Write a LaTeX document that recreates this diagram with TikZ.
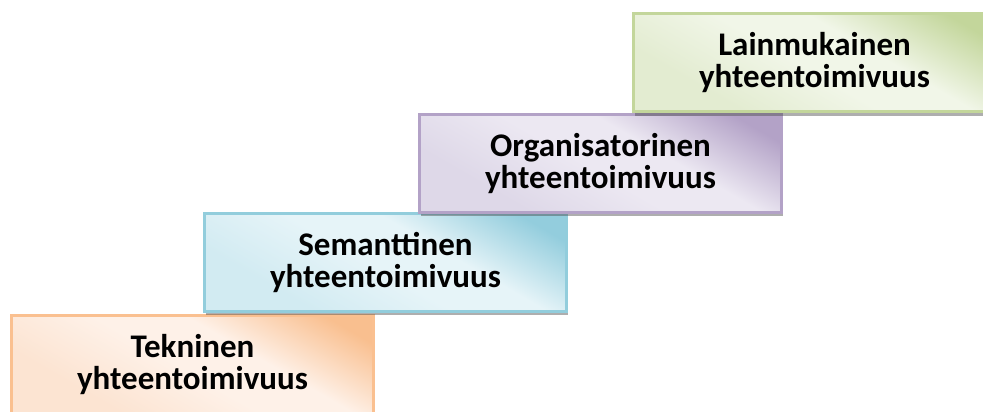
\documentclass[tikz,border=0pt]{standalone}
\usepackage{fontspec}
\setmainfont{Carlito}
\usetikzlibrary{shadows}

% step colours: border, light corner, light centre, dark corner
\definecolor{orBorder}{HTML}{FAC090}
\definecolor{orLight}{HTML}{FCE4D2}
\definecolor{orMid}{HTML}{FEF1E8}
\definecolor{orDark}{HTML}{F9BF8F}
\definecolor{blBorder}{HTML}{92CDDC}
\definecolor{blLight}{HTML}{D2EBF2}
\definecolor{blMid}{HTML}{E6F4F8}
\definecolor{blDark}{HTML}{93CDDD}
\definecolor{puBorder}{HTML}{B3A2C7}
\definecolor{puLight}{HTML}{DED8E8}
\definecolor{puMid}{HTML}{ECE8F2}
\definecolor{puDark}{HTML}{B3A2C7}
\definecolor{grBorder}{HTML}{C3D69B}
\definecolor{grLight}{HTML}{E3ECD1}
\definecolor{grMid}{HTML}{F1F6E8}
\definecolor{grDark}{HTML}{C3D69B}

% working colours of the step gradient, set per box
\colorlet{stepL}{white}
\colorlet{stepM}{white}
\colorlet{stepD}{gray}
\pgfdeclarehorizontalshading[stepL,stepM,stepD]{stepshade}{100bp}{%
  color(0bp)=(stepL); color(30bp)=(stepL); color(48bp)=(stepM);
  color(60bp)=(stepM); color(78bp)=(stepD); color(100bp)=(stepD)}

\tikzset{
  stepcolours/.code n args={3}{%
    \colorlet{stepL}{#1}\colorlet{stepM}{#2}\colorlet{stepD}{#3}},
  stepbox/.style n args={4}{
    draw=#1, line width=3pt,
    stepcolours={#2}{#3}{#4},
    shading=stepshade, shading angle=60,
    minimum width=362pt, minimum height=98pt,
    inner sep=0pt, align=center,
    font=\bfseries\fontsize{33}{32}\selectfont,
    drop shadow={shadow xshift=1pt, shadow yshift=-4pt, opacity=0.45, fill=black!70}
  }
}

\begin{document}
\begin{tikzpicture}[x=1pt,y=1pt]
  \useasboundingbox (0,0) rectangle (983,412);
  \clip (0,0) rectangle (983,412);
  % lowest step first so each higher step overlaps the one below
  \node[stepbox={orBorder}{orLight}{orMid}{orDark}] (tech) at (192.5,47.5)
    {Tekninen\\yhteentoimivuus};
  \node[stepbox={blBorder}{blLight}{blMid}{blDark}] (sem) at (385.5,149.5)
    {Semanttinen\\yhteentoimivuus};
  \node[stepbox={puBorder}{puLight}{puMid}{puDark}] (org) at (600.5,248.5)
    {Organisatorinen\\yhteentoimivuus};
  \node[stepbox={grBorder}{grLight}{grMid}{grDark}] (law) at (814.5,349)
    {Lainmukainen\\yhteentoimivuus};
\end{tikzpicture}
\end{document}
